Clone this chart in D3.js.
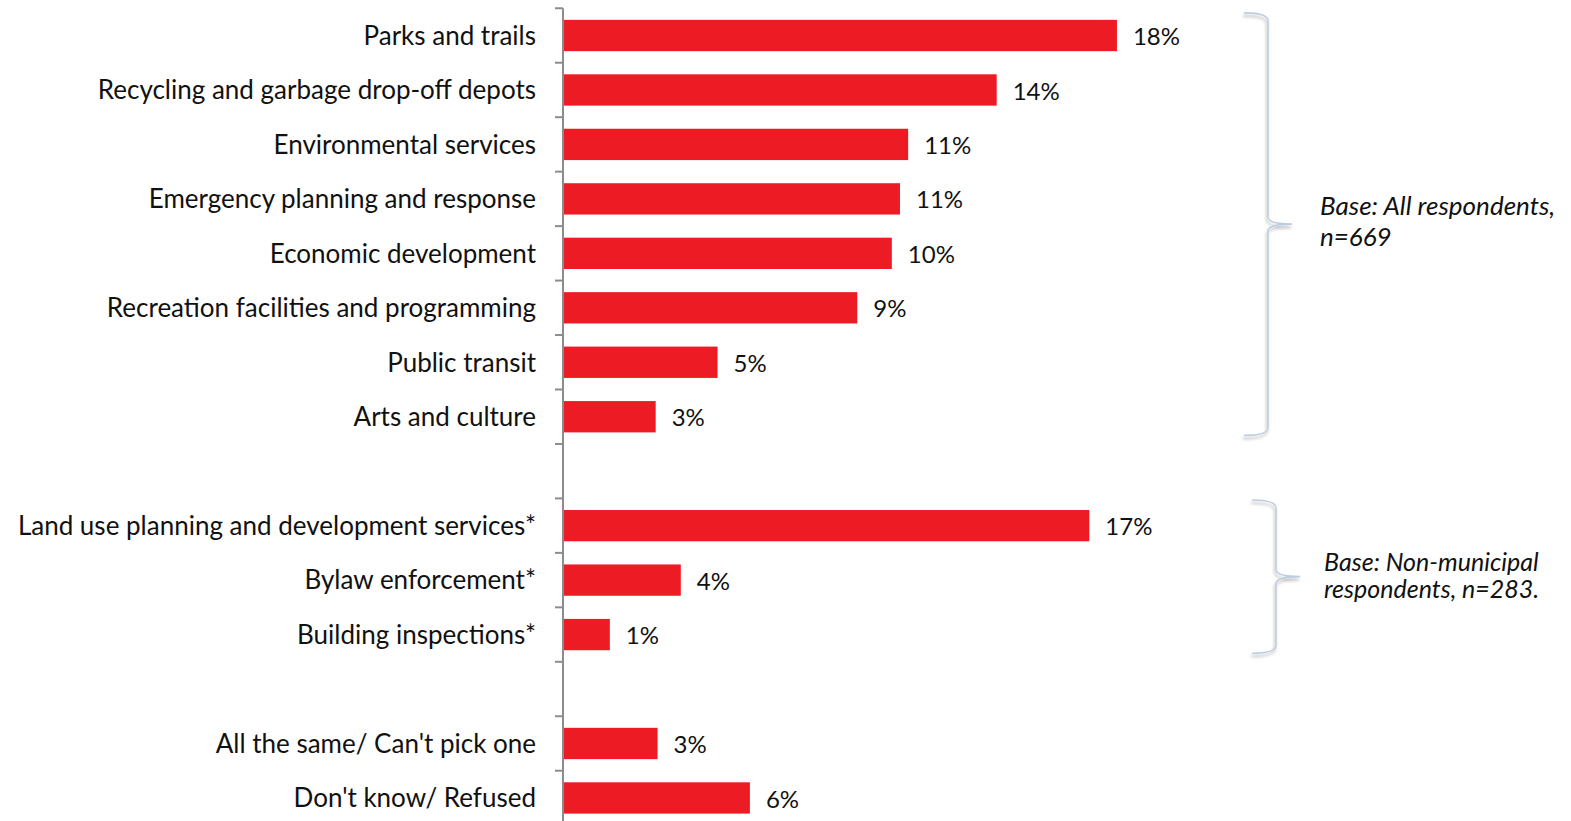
<!DOCTYPE html>
<html>
<head>
<meta charset="utf-8">
<script src="https://cdn.jsdelivr.net/npm/d3@7"></script>
<style>
  html, body { margin: 0; padding: 0; background: #fff; }
  svg { display: block; }
  .cat { font-family: Lato, "Open Sans", sans-serif; font-size: 26px; fill: #111; }
  .val { font-family: Lato, "Open Sans", sans-serif; font-size: 24px; fill: #111; }
  .note { font-family: Lato, "Open Sans", sans-serif; font-style: italic; fill: #111; }
</style>
</head>
<body>
<svg id="chart" width="1571" height="821"></svg>
<script>
// Category slots, top to bottom; empty strings are spacer rows between groups
const categories = [
  "Parks and trails",
  "Recycling and garbage drop-off depots",
  "Environmental services",
  "Emergency planning and response",
  "Economic development",
  "Recreation facilities and programming",
  "Public transit",
  "Arts and culture",
  "",
  "Land use planning and development services*",
  "Bylaw enforcement*",
  "Building inspections*",
  " ",
  "All the same/ Can't pick one",
  "Don't know/ Refused"
];

// Share of respondents (%), null for spacer rows
const values = [17.61, 13.78, 10.96, 10.70, 10.44, 9.34, 4.89, 2.92,
                null, 16.73, 3.72, 1.46, null, 2.98, 5.92];

// Bracket notes: first and last category each bracket spans, and its text lines
const groupNotes = [
  { from: "Parks and trails", to: "Arts and culture",
    lines: ["Base: All respondents,", "n=669"] },
  { from: "Land use planning and development services*", to: "Building inspections*",
    lines: ["Base: Non-municipal", "respondents, n=283."] }
];

const svg = d3.select("#chart");

const axisX = 563;
const x = d3.scaleLinear().domain([0, 20]).range([axisX + 1, axisX + 1 + 20 * 31.4]);
const y = d3.scaleBand()
  .domain(categories)
  .range([8.27, 8.27 + 15 * 54.46])
  .paddingInner(0.425)
  .paddingOuter(0.2125);

const rows = categories.map((c, i) => ({ cat: c, v: values[i] }));
const bars = rows.filter(d => d.v != null);

// Bars
svg.append("g").selectAll("rect")
  .data(bars)
  .join("rect")
  .attr("x", x(0))
  .attr("y", d => y(d.cat))
  .attr("width", d => x(d.v) - x(0))
  .attr("height", y.bandwidth())
  .attr("fill", "#ED1C24");

// Category axis: vertical line with ticks at slot boundaries
const gap = (y.step() - y.bandwidth()) / 2;
const boundaries = categories.map(c => y(c) - gap);
boundaries.push(y(categories[categories.length - 1]) + y.bandwidth() + gap);

const axis = svg.append("g");
axis.append("line")
  .attr("x1", axisX).attr("x2", axisX)
  .attr("y1", boundaries[0]).attr("y2", 821)
  .attr("stroke", "#8c8c8c").attr("stroke-width", 2);
axis.selectAll(".tick")
  .data(boundaries)
  .join("line")
  .attr("class", "tick")
  .attr("x1", axisX - 8).attr("x2", axisX)
  .attr("y1", d => d).attr("y2", d => d)
  .attr("stroke", "#8c8c8c").attr("stroke-width", 2);

// Category labels
svg.append("g").selectAll("text")
  .data(bars)
  .join("text")
  .attr("class", "cat")
  .attr("x", axisX - 27)
  .attr("y", d => y(d.cat) + y.bandwidth() / 2)
  .attr("dy", "0.36em")
  .attr("text-anchor", "end")
  .text(d => d.cat);

// Value labels
svg.append("g").selectAll("text")
  .data(bars)
  .join("text")
  .attr("class", "val")
  .attr("x", d => x(d.v) + 16)
  .attr("y", d => y(d.cat) + y.bandwidth() / 2)
  .attr("dy", "0.4em")
  .text(d => Math.round(d.v) + "%");

// Soft shadow under the braces
const defs = svg.append("defs");
const f = defs.append("filter").attr("id", "braceShadow")
  .attr("x", "-50%").attr("y", "-10%").attr("width", "200%").attr("height", "120%");
f.append("feDropShadow")
  .attr("dx", -1).attr("dy", 3).attr("stdDeviation", 1.6)
  .attr("flood-color", "#000").attr("flood-opacity", 0.28);

// Right curly brace spanning a group of rows
function bracePath(x0, top, bottom, w, tip) {
  const mid = (top + bottom) / 2;
  const xv = x0 + w;
  return [
    `M${x0},${top}`,
    `Q${xv},${top} ${xv},${top + 8}`,
    `L${xv},${mid - 7}`,
    `Q${xv},${mid} ${xv + tip},${mid}`,
    `Q${xv},${mid} ${xv},${mid + 7}`,
    `L${xv},${bottom - 8}`,
    `Q${xv},${bottom} ${x0},${bottom}`
  ].join(" ");
}

const braceSpecs = [
  { x0: 1244, w: 24, tip: 24, dTop: -7, dBot: 3, tx: 1320, lh: 31, dy: -9, fs: 26 },
  { x0: 1252, w: 24, tip: 24, dTop: -10, dBot: 3, tx: 1324, lh: 27, dy: -6, fs: 25 }
];

groupNotes.forEach((g, i) => {
  const s = braceSpecs[i];
  const top = y(g.from) + s.dTop;
  const bottom = y(g.to) + y.bandwidth() + s.dBot;
  svg.append("path")
    .attr("d", bracePath(s.x0, top, bottom, s.w, s.tip))
    .attr("fill", "none")
    .attr("stroke", "#bccde2")
    .attr("stroke-width", 1.6)
    .attr("filter", "url(#braceShadow)");
  const mid = (top + bottom) / 2;
  const t = svg.append("text").attr("class", "note")
    .attr("font-size", s.fs)
    .attr("x", s.tx).attr("y", mid + s.dy);
  g.lines.forEach((line, j) => {
    t.append("tspan").attr("x", s.tx).attr("dy", j === 0 ? 0 : s.lh).text(line);
  });
});
</script>
</body>
</html>
